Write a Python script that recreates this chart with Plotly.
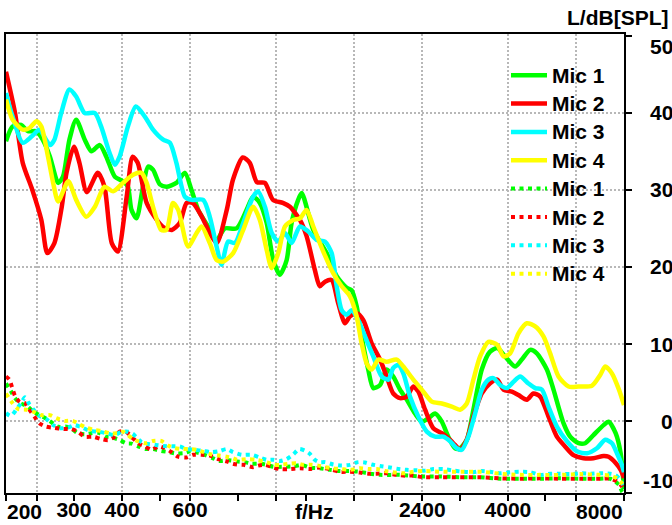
import math
import plotly.graph_objects as go

# ---------------- data ----------------
mic1_freq = [200, 208, 219, 228, 240, 249, 260, 273, 281, 292, 304, 320, 333, 350, 364, 383, 402, 414, 423, 436,
             453, 467, 481, 501, 521, 553, 582, 605, 630, 668, 703, 738, 792, 841, 874, 910, 948, 986, 1026, 1068,
             1100, 1144, 1168, 1252, 1356, 1440, 1528, 1574, 1622, 1671, 1738, 1791, 1865, 1940, 2018, 2101, 2187,
             2298, 2392, 2489, 2590, 2696, 2803, 2918, 3006, 3130, 3256, 3423, 3592, 3755, 3935, 4177, 4347, 4569,
             4755, 5048, 5252, 5575, 5803, 6099, 6346, 6667, 7081, 7298, 7611, 7842, 8000]
mic1_level = [36.3, 38.2, 38.4, 37.6, 37.6, 36.5, 34.3, 30.9, 31.7, 36.5, 39.1, 36.5, 35.0, 35.8, 34.3, 31.7, 31.1,
              30.4, 27.4, 26.3, 30.4, 33.0, 32.6, 30.7, 30.4, 30.9, 32.2, 30.0, 27.4, 25.25, 23.5, 25.0, 25.0, 27.4,
              29.1, 28.3, 25.7, 20.9, 19.0, 20.9, 25.7, 28.7, 29.6, 24.8, 21.8, 18.8, 17.3, 17.0, 14.9, 11.0, 6.7,
              4.3, 4.7, 6.7, 5.8, 4.1, 2.8, 1.0, -0.05, 0.4, 1.0, -0.05, -2.0, -3.5, -3.5, -2.4, 1.5, 6.7, 9.0, 9.5,
              8.4, 7.1, 8.0, 9.25, 8.8, 6.7, 4.1, -0.25, -2.0, -2.85, -2.85, -1.8, -0.5, -0.05, -1.55, -4.15, -8.8]

mic2_freq = [200, 211, 221, 234, 247, 256, 267, 279, 287, 300, 310, 324, 346, 360, 376, 390, 411, 426, 439, 463,
             492, 510, 538, 564, 588, 610, 644, 675, 704, 747, 775, 822, 857, 894, 938, 984, 1044, 1089, 1156, 1203,
             1264, 1302, 1343, 1397, 1453, 1513, 1559, 1622, 1688, 1774, 1865, 1940, 2018, 2101, 2187, 2275, 2344,
             2440, 2563, 2696, 2803, 2918, 3006, 3130, 3256, 3423, 3592, 3755, 3896, 4095, 4261, 4479, 4659, 4850,
             5099, 5359, 5634, 5918, 6284, 6667, 7081, 7298, 7611, 7842, 8000]
mic2_level = [45.3, 40.0, 33.5, 30.0, 26.1, 21.8, 23.1, 27.8, 32.2, 35.6, 33.5, 29.7, 32.2, 30.4, 23.1, 22.0, 29.1,
              34.3, 33.5, 28.3, 26.1, 25.2, 24.8, 25.7, 28.3, 28.3, 26.5, 24.4, 23.1, 27.4, 31.3, 34.2, 33.5, 31.0,
              30.9, 28.7, 28.3, 27.8, 26.1, 24.0, 19.6, 17.5, 18.1, 18.3, 15.3, 12.7, 13.6, 14.0, 13.1, 10.1, 8.0,
              5.8, 3.6, 3.0, 3.2, 4.5, 3.85, 1.5, -0.9, -1.55, -2.2, -3.07, -3.7, -2.4, 0.6, 3.6, 4.9, 5.4, 4.1,
              3.85, 3.4, 2.8, 3.6, 3.2, 0.6, -2.0, -3.3, -4.4, -4.8, -4.8, -4.5, -4.6, -5.4, -6.3, -7.35]

mic3_freq = [200, 208, 221, 233, 244, 254, 260, 267, 278, 292, 304, 320, 340, 353, 371, 383, 394, 414, 434, 458,
             481, 511, 532, 553, 582, 605, 649, 675, 703, 724, 753, 784, 824, 874, 901, 938, 977, 1016, 1057, 1100,
             1156, 1215, 1278, 1342, 1397, 1440, 1483, 1528, 1574, 1638, 1705, 1791, 1884, 1960, 2018, 2080, 2143,
             2230, 2344, 2465, 2590, 2722, 2833, 2949, 3038, 3160, 3289, 3424, 3561, 3669, 3819, 3975, 4135, 4304,
             4523, 4708, 4900, 5097, 5359, 5690, 6041, 6412, 6806, 7153, 7445, 7670, 7903, 8000]
mic3_level = [42.55, 39.5, 36.1, 36.9, 37.8, 36.5, 35.8, 36.5, 39.95, 43.0, 42.1, 39.95, 39.95, 38.2, 34.8, 33.25,
              34.3, 38.2, 40.8, 39.5, 37.8, 36.5, 36.1, 33.5, 29.1, 28.7, 28.7, 26.5, 22.65, 20.3, 23.3, 23.1, 25.7,
              29.1, 29.8, 27.8, 24.4, 23.3, 24.4, 23.1, 25.25, 24.6, 23.5, 23.3, 21.8, 17.5, 14.4, 13.8, 14.4, 13.1,
              11.0, 8.4, 5.8, 5.4, 6.9, 7.3, 6.2, 3.2, 0.6, -1.35, -2.0, -2.0, -2.6, -3.5, -3.7, -2.0, 1.0, 4.1, 5.4,
              5.6, 4.7, 4.3, 5.1, 5.8, 4.9, 4.3, 4.1, 1.9, -0.7, -2.6, -3.9, -4.15, -3.5, -2.4, -2.85, -4.15, -5.7,
              -6.6]

mic4_freq = [200, 208, 221, 230, 240, 247, 257, 265, 273, 290, 304, 323, 340, 360, 379, 402, 427, 449, 463, 481,
             505, 521, 542, 559, 593, 624, 643, 675, 703, 731, 776, 824, 874, 910, 948, 977, 1016, 1057, 1111, 1156,
             1203, 1252, 1329, 1410, 1483, 1559, 1622, 1671, 1722, 1774, 1846, 1940, 2060, 2143, 2275, 2392, 2540,
             2696, 2862, 3006, 3130, 3256, 3389, 3561, 3755, 3896, 4055, 4261, 4479, 4708, 4946, 5148, 5411, 5745,
             6099, 6606, 6941, 7153, 7445, 7763, 8000]
mic4_level = [41.7, 39.1, 37.8, 38.0, 38.9, 38.2, 34.3, 30.9, 28.5, 31.1, 28.7, 26.5, 27.8, 30.4, 29.8, 30.9, 31.95,
              32.2, 30.9, 27.8, 24.8, 24.8, 28.3, 27.4, 22.65, 24.4, 25.25, 23.1, 20.9, 20.7, 21.8, 24.8, 27.8, 26.1,
              22.2, 19.85, 21.8, 25.25, 26.1, 26.3, 27.4, 25.25, 22.0, 19.2, 17.5, 16.2, 13.6, 10.1, 7.5, 6.7, 8.0,
              7.7, 8.0, 7.1, 5.4, 4.1, 2.55, 2.3, 1.9, 1.5, 2.3, 5.4, 8.4, 10.3, 9.9, 8.4, 8.8, 11.4, 12.7, 12.3,
              11.0, 8.8, 5.8, 4.5, 4.5, 4.6, 6.0, 7.1, 6.2, 4.1, 2.1]

# background (dotted) curves
bg1_freq = [200, 206, 211, 217, 228, 235, 242, 257, 273, 287, 295, 307, 320, 333, 348, 363, 375, 393, 409, 423,
            440, 460, 481, 505, 529, 548, 576, 602, 630, 655, 689, 717, 753, 792, 832, 866, 910, 938, 987, 1057,
            1111, 1168, 1227, 1302, 1383, 1468, 1559, 1654, 1756, 1865, 2101, 2368, 2668, 3006, 3389, 3819, 4304,
            4850, 5466, 6160, 6941, 7369, 7763, 7903, 8000]
bg1_level = [4.9, 3.9, 3.0, 2.4, 1.9, 1.25, 0.9, 0.2, -0.7, -0.7, -0.9, -1.55, -1.7, -1.55, -1.5, -2.0, -2.1, -2.4,
             -2.85, -2.9, -3.25, -3.6, -3.6, -3.85, -4.0, -4.15, -4.15, -3.9, -4.1, -4.35, -4.8, -5.15, -5.05, -5.2,
             -5.3, -5.5, -5.5, -5.6, -5.9, -5.9, -5.85, -5.65, -6.0, -6.1, -6.3, -6.45, -6.45, -6.55, -6.8, -6.95,
             -6.95, -7.15, -7.15, -7.25, -7.25, -7.45, -7.45, -7.45, -7.4, -7.45, -7.45, -7.45, -8.25, -9.1, -9.4]

bg2_freq = [200, 204, 211, 217, 224, 230, 237, 244, 254, 267, 281, 295, 307, 320, 336, 353, 368, 383, 394, 409,
            423, 440, 458, 477, 496, 516, 537, 559, 587, 611, 643, 675, 709, 746, 775, 794, 827, 874, 902, 938,
            987, 1026, 1079, 1156, 1227, 1302, 1383, 1468, 1559, 1654, 1739, 1828, 1940, 2060, 2165, 2275, 2415,
            2668, 3006, 3389, 3819, 4304, 4850, 5466, 6160, 6941, 7369, 7670, 7903, 8000]
bg2_level = [5.8, 5.4, 3.3, 2.5, 2.35, 1.5, 0.6, -0.25, -0.7, -0.85, -1.0, -1.0, -1.35, -2.0, -2.0, -2.3, -2.45,
             -2.0, -1.35, -1.35, -2.0, -2.85, -3.25, -3.7, -3.25, -3.5, -4.0, -4.6, -4.7, -4.35, -4.35, -4.45, -4.9,
             -5.2, -5.5, -5.6, -5.65, -5.95, -5.75, -5.65, -6.0, -6.2, -6.2, -6.1, -6.2, -6.0, -6.2, -6.55, -6.55,
             -6.65, -6.8, -6.8, -6.75, -6.95, -7.05, -7.05, -7.25, -7.25, -7.25, -7.25, -7.4, -7.45, -7.4, -7.45,
             -7.45, -7.45, -7.45, -7.8, -8.45, -8.9]

bg3_freq = [200, 206, 213, 219, 224, 230, 237, 244, 254, 265, 276, 290, 301, 316, 330, 346, 364, 383, 398, 414,
            427, 436, 449, 467, 486, 511, 537, 564, 587, 617, 649, 682, 717, 746, 775, 816, 866, 910, 948, 986,
            1026, 1068, 1111, 1151, 1191, 1222, 1264, 1302, 1343, 1410, 1483, 1559, 1638, 1705, 1774, 1865, 1960,
            2060, 2187, 2298, 2440, 2563, 2722, 2890, 3068, 3256, 3424, 3598, 3819, 4054, 4304, 4569, 4850, 5149,
            5466, 5803, 6160, 6539, 6941, 7369, 7593, 7823, 8000]
bg3_level = [1.05, 0.7, 1.55, 2.4, 3.1, 2.2, 1.35, 0.7, 0.3, -0.5, -0.9, -0.8, -0.5, -0.85, -1.25, -1.35, -1.55,
             -1.8, -1.35, -1.35, -1.65, -2.1, -2.7, -2.95, -3.05, -3.2, -3.25, -3.25, -3.6, -3.7, -3.85, -4.0, -3.85,
             -3.6, -4.0, -4.35, -4.35, -4.7, -5.0, -5.0, -5.15, -4.9, -4.3, -3.6, -3.8, -4.15, -5.0, -5.3, -5.3,
             -5.6, -5.75, -5.65, -5.3, -5.35, -5.6, -5.8, -5.95, -6.15, -6.3, -6.35, -6.4, -6.2, -6.2, -6.4, -6.55,
             -6.6, -6.45, -6.55, -6.75, -6.6, -6.55, -6.6, -6.95, -6.8, -6.8, -6.85, -6.75, -6.8, -6.75, -6.8,
             -6.95, -7.6, -8.5]

bg4_freq = [200, 208, 215, 226, 235, 247, 260, 270, 284, 298, 310, 324, 340, 353, 371, 390, 402, 414, 427, 440,
            460, 481, 505, 526, 548, 574, 599, 624, 651, 682, 714, 746, 775, 794, 849, 892, 928, 966, 987, 1026,
            1089, 1133, 1179, 1240, 1290, 1343, 1410, 1483, 1559, 1654, 1739, 1828, 1920, 2039, 2165, 2275, 2415,
            2722, 3068, 3424, 3819, 4304, 4850, 5466, 6160, 6941, 7369, 7670, 7903, 8000]
bg4_level = [3.6, 2.35, 1.6, 1.5, 1.25, 0.8, 0.8, 0.4, 0.05, 0.05, -0.4, -0.85, -1.15, -1.25, -1.55, -1.55, -1.35,
             -1.8, -2.3, -2.6, -2.85, -2.55, -2.55, -3.15, -3.5, -3.6, -3.6, -3.7, -4.0, -4.3, -4.45, -4.6, -4.8,
             -5.0, -4.9, -5.0, -5.2, -5.45, -5.65, -5.65, -5.5, -5.45, -5.65, -5.65, -5.75, -5.95, -6.1, -6.2, -6.3,
             -6.1, -6.2, -6.2, -6.45, -6.65, -6.75, -6.55, -6.45, -6.55, -6.55, -6.55, -6.8, -6.95, -6.95, -6.95,
             -6.85, -6.95, -7.05, -7.4, -8.05, -8.4]

series_names = ["Mic 1", "Mic 2", "Mic 3", "Mic 4"]
series_colors = ["#00FF00", "#FF0000", "#00FFFF", "#FFFF00"]

# axis ticks
x_tick_vals = [200, 240, 300, 400, 500, 600, 800, 1000, 1200, 1600, 2000, 2400, 3000, 4000, 5000, 6000, 8000]
x_tick_text = ["", "", "300", "400", "", "600", "", "", "", "", "", "2400", "", "4000", "", "", ""]
x_grid_vals = [240, 400, 600, 1000, 1600, 2400, 4000, 6000]
x_edge_labels = ["200", "8000"]
x_title = "f/Hz"
y_range = [-9.3, 50.2]
y_tick_vals = [-9.3, 0, 10, 20, 30, 40, 50]
y_grid_vals = [0, 10, 20, 30, 40]
y_label_vals = [0, 10, 20, 30, 40]
y_edge_labels = ["50", "-10"]
y_title = "L/dB[SPL]"

# ---------------- figure ----------------
FONT = "Liberation Sans, Arial, sans-serif"
W, H = 672, 525
ML, MR, MT, MB = 6, 48, 34, 32
PW, PH = W - ML - MR, H - MT - MB


def px_x(p):
    return (p - ML) / PW


def px_y(p):
    return (H - MB - p) / PH


fig = go.Figure()
solid = [(mic1_freq, mic1_level), (mic2_freq, mic2_level), (mic3_freq, mic3_level), (mic4_freq, mic4_level)]
dotted = [(bg1_freq, bg1_level), (bg2_freq, bg2_level), (bg3_freq, bg3_level), (bg4_freq, bg4_level)]


def legend_name(n):
    return '<span style="font-size:21px">' + n + '</span>'


for (fx, fy), name, col in zip(solid, series_names, series_colors):
    fig.add_trace(go.Scatter(x=fx, y=fy, mode="lines", name=legend_name(name),
                             line=dict(color=col, width=4.5, shape="spline", smoothing=0.7)))
for (fx, fy), name, col in zip(dotted, series_names, series_colors):
    fig.add_trace(go.Scatter(x=fx, y=fy, mode="lines", name=legend_name(name),
                             line=dict(color=col, width=4, dash="4px,4.5px", shape="spline", smoothing=0.7)))

tfont = dict(family=FONT, size=21, color="black", weight="bold")

fig.update_xaxes(type="log", range=[math.log10(200), math.log10(8000)], automargin=False,
                 tickmode="array", tickvals=x_tick_vals, ticktext=x_tick_text,
                 ticks="outside", ticklen=6, tickwidth=2, tickcolor="black",
                 ticklabelstandoff=-9,
                 showline=True, linewidth=2, linecolor="black", mirror=True,
                 showgrid=False, zeroline=False, tickfont=tfont,
                 minor=dict(tickvals=x_grid_vals, showgrid=True, gridcolor="#b8b8b8",
                            griddash="2px,2px", gridwidth=2, ticks=""))
fig.update_yaxes(side="right", range=y_range, tickmode="array", tickvals=y_tick_vals, automargin=False,
                 ticks="outside", ticklen=6, tickwidth=2, tickcolor="black",
                 showticklabels=False,
                 showline=True, linewidth=2, linecolor="black", mirror=True,
                 showgrid=False, zeroline=False,
                 minor=dict(tickvals=y_grid_vals, showgrid=True, gridcolor="#b8b8b8",
                            griddash="2px,2px", gridwidth=2, ticks=""))

YLAB_X = px_x(675)
ann = []
for v in y_label_vals:
    ann.append(dict(x=YLAB_X, xref="paper", xanchor="right", y=v, yref="y", yanchor="middle",
                    text=str(v), showarrow=False, font=tfont))
ann.append(dict(x=YLAB_X, xref="paper", xanchor="right", y=px_y(46.5), yref="paper", yanchor="middle",
                text=y_edge_labels[0], showarrow=False, font=tfont))
ann.append(dict(x=YLAB_X, xref="paper", xanchor="right", y=px_y(480), yref="paper", yanchor="middle",
                text=y_edge_labels[1], showarrow=False, font=tfont))
ann.append(dict(x=px_x(670), xref="paper", xanchor="right", y=px_y(17), yref="paper", yanchor="middle",
                text=y_title, showarrow=False, font=tfont))
ann.append(dict(x=px_x(5), xref="paper", xanchor="left", y=px_y(511), yref="paper", yanchor="middle",
                text=x_edge_labels[0], showarrow=False, font=tfont))
ann.append(dict(x=px_x(625), xref="paper", xanchor="right", y=px_y(511), yref="paper", yanchor="middle",
                text=x_edge_labels[1], showarrow=False, font=tfont))
ann.append(dict(x=px_x(314), xref="paper", xanchor="center", y=px_y(511), yref="paper", yanchor="middle",
                text=x_title, showarrow=False, font=tfont))

fig.update_layout(
    width=W, height=H,
    margin=dict(l=ML, r=MR, t=MT, b=MB, pad=0),
    paper_bgcolor="white", plot_bgcolor="white",
    font=dict(family=FONT, size=21, color="black"),
    showlegend=True,
    legend=dict(x=px_x(506), xanchor="left", y=px_y(56), yanchor="top",
                bgcolor="rgba(0,0,0,0)", borderwidth=0, itemwidth=36,
                font=dict(family=FONT, size=19.5, color="black", weight="bold"),
                tracegroupgap=0),
    annotations=ann,
)

fig.write_html("out.html")
